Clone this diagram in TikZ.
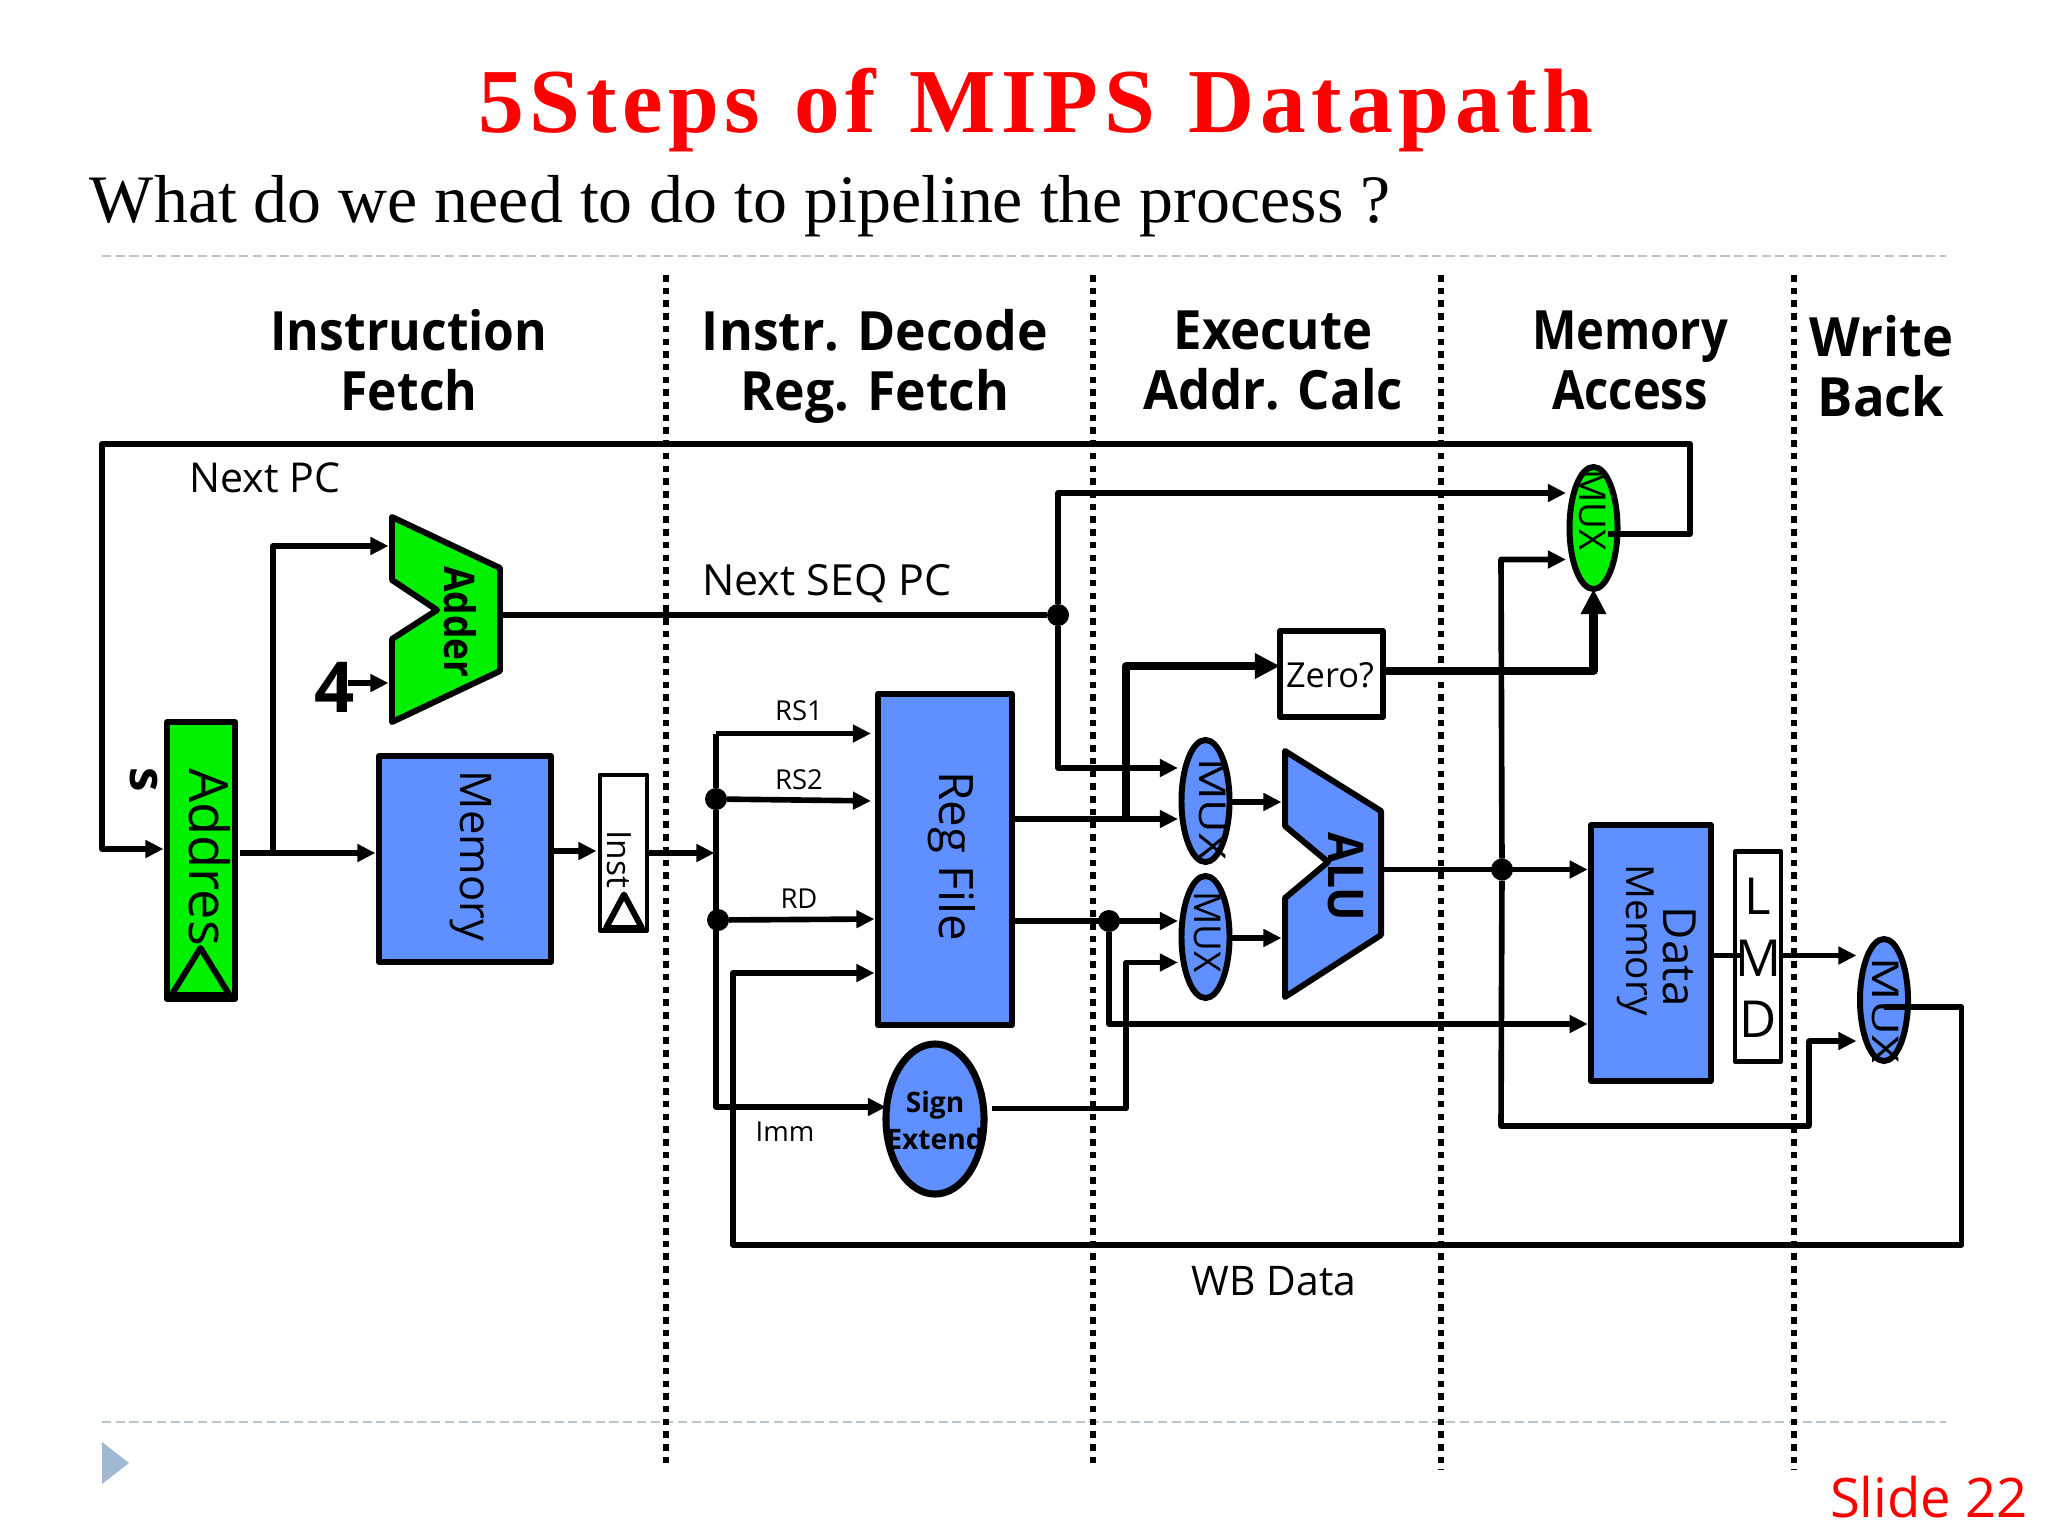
\documentclass[tikz,border=0pt]{standalone}
\usepackage{fontspec}
\setmainfont{Open Sans}
\newfontfamily\serifbody{Liberation Serif}
\newfontfamily\titlefont[LetterSpace=6,WordSpace=1.2]{Liberation Serif}
\usetikzlibrary{arrows.meta,shapes.geometric}
\definecolor{pcgreen}{RGB}{0,240,0}
\definecolor{unitblue}{RGB}{96,144,255}
\definecolor{rulegrey}{RGB}{185,198,208}
\definecolor{markblue}{RGB}{160,184,210}
\newcommand{\fsz}[1]{\fontsize{#1}{#1}\selectfont}
\tikzset{
  box/.style={draw=black,line width=1.7pt,inner sep=0pt,outer sep=0pt,rectangle,line join=round},
  poly/.style={draw=black,line width=1.7pt,line join=round},
  muxshape/.style={ellipse,draw=black,line width=1.7pt,inner sep=0pt,outer sep=0pt,minimum width=.48cm,minimum height=1.22cm},
  dot/.style={circle,fill=black,inner sep=0pt,outer sep=0pt,minimum size=.22cm},
  lbl/.style={inner sep=0pt,outer sep=0pt,text=black},
  vlbl/.style={lbl,rotate=-90},
  wire/.style={draw=black,line width=1.6pt,line join=round},
  arr/.style={wire,-{Triangle[length=.18cm,width=.17cm]},shorten >=1pt},
  fat/.style={draw=black,line width=2.3pt,line join=round,-{Triangle[length=.25cm,width=.24cm]}},
  stage/.style={draw=black,line width=1.55pt,dash pattern=on .065cm off .062cm},
  rule/.style={draw=rulegrey,line width=.5pt,dash pattern=on 2.6pt off 1.3pt},
  head/.style={lbl,font=\fsz{15.4}\bfseries,align=center,text depth=0pt}
}
\begin{document}
\begin{tikzpicture}[x=0.01cm,y=-0.01cm]
\useasboundingbox (0,0) rectangle (2048,1536);
% title
\node[lbl,anchor=base,text=red,font=\titlefont\fsz{26}\bfseries] (title) at (1036,132) {5Steps of MIPS Datapath};
\node[lbl,anchor=base west,font=\serifbody\fsz{19.3}] (sub) at (90,222) {What do we need to do to pipeline the process ?};
\coordinate (r1a) at (102,256); \coordinate (r1b) at (1946,256);
\coordinate (r2a) at (102,1422); \coordinate (r2b) at (1946,1422);
\draw[rule] (r1a) -- (r1b);
\draw[rule] (r2a) -- (r2b);
\fill[markblue] (102,1442) -- (129,1463) -- (102,1484) -- cycle;
\node[lbl,text=red,font=\fsz{15.5}] (slide) at (1929,1497) {Slide 22};
% stage separators
\coordinate (s1a) at (666,275); \coordinate (s1b) at (666,1465);
\coordinate (s2a) at (1093,275); \coordinate (s2b) at (1093,1465);
\coordinate (s3a) at (1441,275); \coordinate (s3b) at (1441,1470);
\coordinate (s4a) at (1794,275); \coordinate (s4b) at (1794,1470);
\draw[stage] (s1a) -- (s1b);
\draw[stage] (s2a) -- (s2b);
\draw[stage] (s3a) -- (s3b);
\draw[stage] (s4a) -- (s4b);
% headings
\node[head,xscale=.92] (h1) at (409,360) {Instruction\\[1.5pt]Fetch};
\node[head,xscale=.955] (h2) at (875,360) {Instr. Decode\\[1.5pt]Reg. Fetch};
\node[head,xscale=.94] (h3) at (1273,360) {Execute\\[1.5pt]Addr. Calc};
\node[head,xscale=.87] (h4) at (1630,360) {Memory\\[1.5pt]Access};
\node[head,xscale=.97] (h5) at (1881,366) {Write\\[1.5pt]Back};
% polygons
\draw[poly,fill=pcgreen] (392,517) -- (500,568) -- (500,671) -- (392,722) -- (392,639) -- (437,610) -- (392,580) -- cycle;
\node[vlbl,xscale=.88,font=\fsz{12}\bfseries] (adder) at (460,622) {Adder};
\draw[poly,fill=unitblue] (1285,751) -- (1381,811) -- (1381,935) -- (1285,997) -- (1285,898) -- (1328,862) -- (1285,826) -- cycle;
\node[vlbl,xscale=.9,font=\fsz{14}\bfseries] (alu) at (1346,877) {ALU};
\coordinate (addin1) at (392,546);
\coordinate (addin2) at (392,683);
\coordinate (addout) at (500,615);
\coordinate (aluin1) at (1285,802);
\coordinate (aluin2) at (1285,938);
\coordinate (aluout) at (1381,869.5);
% boxes
\node[box,fill=pcgreen,minimum width=.68cm,minimum height=2.77cm] (pc) at (201,860.5) {};
\draw[poly] (200.5,948) -- (229.5,995) -- (171.5,995) -- cycle;
\node[vlbl,font=\fsz{15.4}] (pct) at (210,857) {Addres};
\node[vlbl,font=\fsz{14}\bfseries] (s) at (144,780) {s};
\node[box,fill=unitblue,minimum width=1.72cm,minimum height=2.06cm] (imem) at (465,859) {};
\node[vlbl,font=\fsz{12.4}] (imemt) at (471,856) {Memory};
\node[box,fill=white,minimum width=.47cm,minimum height=1.55cm,line width=1.4pt] (ir) at (623.5,852.5) {};
\node[vlbl,font=\fsz{9.5}] (irt) at (619,859) {Inst};
\draw[poly] (624,894.5) -- (642,928) -- (606,928) -- cycle;
\node[box,fill=unitblue,minimum width=1.34cm,minimum height=3.31cm] (rf) at (945,859.5) {};
\node[vlbl,font=\fsz{13.5}] (rft) at (952,856) {Reg File};
\node[ellipse,draw=black,line width=2pt,fill=unitblue,inner sep=0pt,outer sep=0pt,minimum width=.98cm,minimum height=1.5cm] (sx) at (935,1119) {};
\node[lbl,font=\fsz{8}\bfseries,align=center] (sxt) at (935,1120) {Sign\\[2.5pt]Extend};
\node[box,fill=white,minimum width=1.03cm,minimum height=.86cm] (zero) at (1331.5,674) {};
\node[lbl,font=\fsz{9.8}] (zerot) at (1330,675) {Zero?};
\node[box,fill=unitblue,minimum width=1.195cm,minimum height=2.56cm] (dm) at (1651,953) {};
\node[vlbl,font=\fsz{13}] (dmt1) at (1680,957) {Data};
\node[vlbl,font=\fsz{11}] (dmt2) at (1636,940) {Memory};
\node[box,fill=white,minimum width=.46cm,minimum height=2.09cm,line width=1.4pt] (lmd) at (1758,956.5) {};
% muxes
\node[muxshape,fill=pcgreen] (pcmux) at (1593.5,528) {};
\node[vlbl,font=\fsz{10.5}] (pcmuxt) at (1592,510) {MUX};
\node[muxshape,fill=unitblue] (amux) at (1205.5,801) {};
\node[vlbl,xscale=1.25,font=\fsz{10.5}] (amuxt) at (1212,809) {MUX};
\node[muxshape,fill=unitblue] (bmux) at (1205.5,937) {};
\node[vlbl,font=\fsz{10.5}] (bmuxt) at (1207,932) {MUX};
\node[muxshape,fill=unitblue] (wmux) at (1884,1000) {};
\node[vlbl,xscale=1.3,font=\fsz{10.5}] (wmuxt) at (1885,1010) {MUX};
% junctions
\node[dot] (jseq) at (1058,615) {};
\node[dot] (jrs) at (716,799) {};
\node[dot] (jrd) at (718,920) {};
\node[dot] (jreg) at (1109,921) {};
\node[dot] (jalu) at (1502,869.5) {};
% plain text
\node[lbl,font=\fsz{11.7}] (npc) at (265,478) {Next PC};
\node[lbl,font=\fsz{12.2}] (nseq) at (827,584) {Next SEQ PC};
\node[lbl,font=\fsz{11.6}] (wb) at (1274,1281) {WB Data};
\node[lbl,font=\fsz{7.8}] (rs1) at (799,711) {RS1};
\node[lbl,font=\fsz{7.8}] (rs2) at (799,780) {RS2};
\node[lbl,font=\fsz{7.8}] (rd) at (799,899) {RD};
\node[lbl,font=\fsz{7.8}] (imm) at (785,1132) {Imm};
\node[lbl,font=\fsz{20}\bfseries] (four) at (335,687) {4};
\node[lbl,font=\fsz{14.5},align=center] (lmdt) at (1758,958) {L\\[3pt]M\\[3pt]D};
% connectors: fetch
\draw[arr] ([shift={(14,6)}]pcmux.center) -- (1690,534) -- (1690,444) -- (102,444) -- (102,849) -- (pc.west |- 0,849);
\draw[arr,shorten <=1.4pt] (pc.east |- 0,853) -- (imem.west |- 0,853);
\draw[arr] (273,853) -- (273,546) -- (addin1);
\draw[arr] ([shift={(13,-4)}]four.center) -- (addin2);
\draw[arr] (imem.east |- 0,851) -- (ir.west |- 0,851);
\draw[arr] (ir.east |- 0,853) -- (718,853);
% decode
\draw[wire] (jrs) -- (716,733.5);
\draw[arr,shorten >=2pt] (jrs) -- (rf.west |- 0,801);
\draw[arr,shorten >=2pt] (716,733.5) -- (rf.west |- 0,733.5);
\draw[arr] (jrd) -- (rf.west |- 0,919);
\draw[arr,shorten >=0pt] (jrs) -- (716,1107) -- (sx.west |- 0,1107);
\draw[arr,shorten <=2.2pt] (sx.east |- 0,1108.5) -- (1126,1108.5) -- (1126,962.5) -- (bmux.west |- 0,962.5);
\draw[arr] (wmux.center |- 0,1007) -- (1961.5,1007) -- (1961.5,1245) -- (733,1245) -- (733,973) -- (rf.west |- 0,973);
\draw[arr] (rf.east |- 0,819) -- (amux.west |- 0,819);
\draw[arr] (rf.east |- jreg) -- (bmux.west |- jreg);
% next sequential pc
\draw[wire] (addout) -- (jseq);
\draw[arr] (jseq) -- (1058,493) -- (pcmux.west |- 0,493);
\draw[arr] (jseq) -- (1058,768) -- (amux.west |- 0,768);
% execute
\draw[fat] (1126,819) -- (1126,666) -- (zero.west |- 0,666);
\draw[fat] (zero.east |- 0,671) -- (1593.5,671) -- (pcmux.south);
\draw[arr] (jreg) -- (1109,1024) -- (dm.west |- 0,1024);
\draw[arr] (amux.east |- 0,802) -- (aluin1);
\draw[arr] (bmux.east |- 0,938) -- (aluin2);
\draw[arr] (aluout) -- (dm.west |- 0,869.5);
\draw[arr] (jalu) -- (1501,559.5) -- (pcmux.west |- 0,559.5);
\draw[arr] (jalu) -- (1501,1126) -- (1809,1126) -- (1809,1041) -- (wmux.west |- 0,1041);
% memory
\draw[wire] (dm.east |- 0,955.5) -- ([xshift=.07cm]lmd.west |- 0,955.5);
\draw[arr] (lmd.east |- 0,955.5) -- (wmux.west |- 0,955.5);
\end{tikzpicture}
\end{document}
